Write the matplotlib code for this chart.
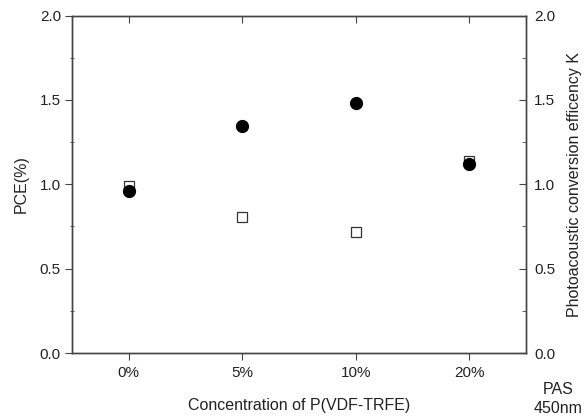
import numpy as np
import matplotlib
matplotlib.use('Agg')
import matplotlib.pyplot as plt
from matplotlib.ticker import MultipleLocator

plt.rcParams['font.family'] = ['Liberation Sans', 'DejaVu Sans']
plt.rcParams['font.size'] = 11

# data
conc = ['0%', '5%', '10%', '20%']
pce = [0.96, 1.345, 1.48, 1.12]
pas_k = [0.99, 0.805, 0.72, 1.14]

x = np.arange(len(conc))
txt = '#222222'
ax_col = '#444444'

fig = plt.figure(figsize=(5.86, 4.2), dpi=100)
ax = fig.add_axes([0.1229, 0.1595, 0.7747, 0.8035])
ax2 = ax.twinx()

ax2.plot(x, pas_k, 's', ms=7.5, mfc='white', mec='#333333', mew=0.9, zorder=2)
ax.plot(x, pce, 'o', ms=8.5, color='black', zorder=3)
ax.set_zorder(ax2.get_zorder() + 1)
ax.patch.set_visible(False)

for a in (ax, ax2):
    a.set_ylim(0, 2.0)
    a.set_xlim(-0.5, 3.5)
    a.yaxis.set_major_locator(MultipleLocator(0.5))
    a.yaxis.set_minor_locator(MultipleLocator(0.25))
    for s in a.spines.values():
        s.set_color(ax_col)
        s.set_linewidth(1.0)

ax.set_xticks(x)
ax.set_xticklabels(conc, color=txt)
ax.tick_params(axis='x', which='major', direction='out', length=5, pad=4,
               colors=ax_col, labelcolor=txt, top=True)
ax.tick_params(axis='y', which='major', direction='out', length=5, pad=3,
               colors=ax_col, labelcolor=txt)
ax.tick_params(axis='y', which='minor', direction='inout', length=3, colors=ax_col)
ax.set_yticklabels(['%.1f' % v for v in ax.get_yticks()])
ax2.tick_params(axis='y', which='major', direction='in', length=5, pad=6,
                colors=ax_col, labelcolor=txt)
ax2.tick_params(axis='y', which='minor', direction='in', length=3, colors=ax_col)
ax2.set_yticklabels(['%.1f' % v for v in ax2.get_yticks()])

# top ticks go inward
ax.tick_params(axis='x', which='major', top=True, labeltop=False)
for t in ax.xaxis.get_major_ticks():
    t.tick2line.set_marker(matplotlib.markers.TICKDOWN)

ax.set_ylabel('PCE(%)', color=txt, labelpad=8, fontsize=11.5)
ax2.set_ylabel('Photoacoustic conversion efficency K', color=txt, labelpad=8,
               fontsize=11.5)
ax.set_xlabel('Concentration of P(VDF-TRFE)', color=txt, labelpad=13, fontsize=11.5)

fig.text(0.952, 0.05, 'PAS\n450nm', ha='center', va='center', color=txt,
         linespacing=1.35, fontsize=11.5)

fig.savefig('out.png', dpi=100)
